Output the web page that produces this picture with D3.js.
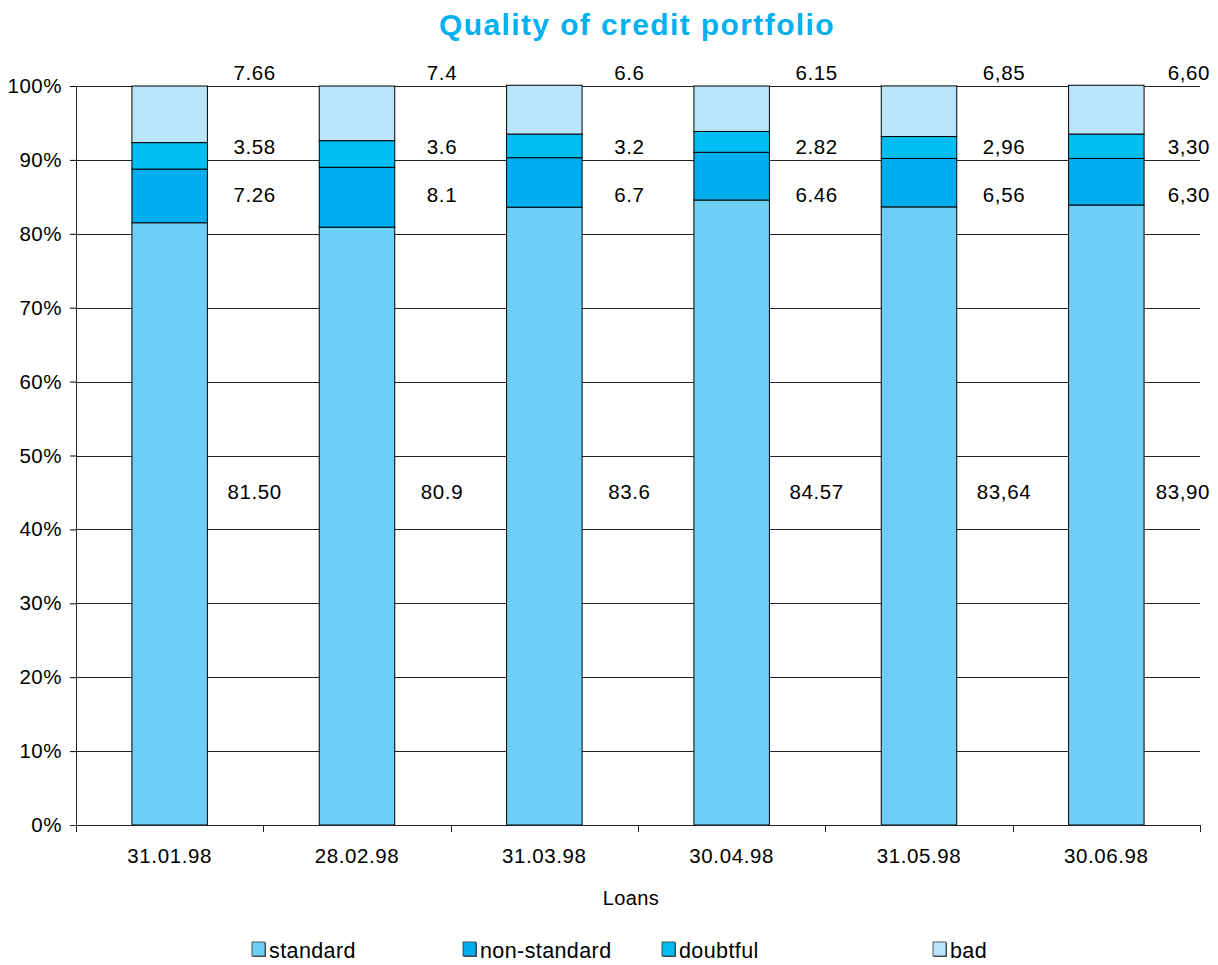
<!DOCTYPE html>
<html lang="en">
  <head>
    <meta charset="utf-8">
    <title>Quality of credit portfolio</title>
    <script src="https://d3js.org/d3.v7.min.js"></script>
    <style>
      body { margin: 0; background: #fff; }
      svg text { font-family: "Liberation Sans", Arial, sans-serif; fill: #000; }
    </style>
  </head>
  <body>
    <div id="chart"></div>

    <script type="text/javascript">
      // dados
      var datas = ["31.01.98", "28.02.98", "31.03.98", "30.04.98", "31.05.98", "30.06.98"];
      var series = ["standard", "non-standard", "doubtful", "bad"];
      var standard = [81.50, 80.9, 83.6, 84.57, 83.64, 83.90];
      var nonStandard = [7.26, 8.1, 6.7, 6.46, 6.56, 6.30];
      var doubtful = [3.58, 3.6, 3.2, 2.82, 2.96, 3.30];
      var bad = [7.66, 7.4, 6.6, 6.15, 6.85, 6.60];
      // rotulos como aparecem no grafico
      var rotStandard = ["81.50", "80.9", "83.6", "84.57", "83,64", "83,90"];
      var rotNonStandard = ["7.26", "8.1", "6.7", "6.46", "6,56", "6,30"];
      var rotDoubtful = ["3.58", "3.6", "3.2", "2.82", "2,96", "3,30"];
      var rotBad = ["7.66", "7.4", "6.6", "6.15", "6,85", "6,60"];
      var yTicks = [0, 10, 20, 30, 40, 50, 60, 70, 80, 90, 100];

      var cores = ["#6dcff6", "#00aeef", "#00bef2", "#b9e5fb"];
      var valores = [standard, nonStandard, doubtful, bad];
      var rotulos = [rotStandard, rotNonStandard, rotDoubtful, rotBad];
      // altura (em %) onde cada linha de rotulos fica
      var alturaRotulo = [45.1, 85.3, 91.7, 101.8];

      var larguraSVG = 1218, alturaSVG = 965;
      var margin = {top: 86, right: 18, bottom: 140, left: 76},
          larguraVis = larguraSVG - margin.left - margin.right,
          alturaVis = alturaSVG - margin.top - margin.bottom;

      var svg = d3.select("#chart").append("svg")
        .attr("width", larguraSVG)
        .attr("height", alturaSVG);

      svg.append("text")
        .attr("x", 637).attr("y", 35)
        .attr("text-anchor", "middle")
        .style("font-size", "30px").style("font-weight", "bold")
        .style("letter-spacing", "1.4px")
        .style("fill", "#00b0ef")
        .text("Quality of credit portfolio");

      var grafico = svg.append("g")
        .attr("transform", "translate(" + margin.left + "," + margin.top + ")");

      var x = d3.scaleBand().domain(datas).range([0, larguraVis]);
      var y = d3.scaleLinear().domain([0, 100]).range([alturaVis, 0]);
      var larguraBarra = 75.5;

      // grade
      grafico.selectAll("line.grade")
        .data(yTicks.filter(d => d > 0))
        .enter().append("line")
          .attr("class", "grade")
          .attr("x1", 0).attr("x2", larguraVis)
          .attr("y1", d => Math.round(y(d)) + 0.5).attr("y2", d => Math.round(y(d)) + 0.5)
          .attr("stroke", "#222").attr("stroke-width", 1);

      // barras empilhadas
      var linhas = datas.map((d, i) => {
        var o = {data: d};
        series.forEach((s, j) => o[s] = valores[j][i]);
        return o;
      });
      var pilha = d3.stack().keys(series)(linhas);

      pilha.forEach((camada, j) => {
        grafico.selectAll("rect.s" + j)
          .data(camada)
          .enter().append("rect")
            .attr("class", "s" + j)
            .attr("x", d => x(d.data.data) + x.bandwidth() / 2 - larguraBarra / 2)
            .attr("width", larguraBarra)
            .attr("y", d => y(d[1]))
            .attr("height", d => y(d[0]) - y(d[1]))
            .attr("fill", cores[j])
            .attr("stroke", "#000").attr("stroke-width", 1);
      });

      // rotulos
      series.forEach((s, j) => {
        grafico.selectAll("text.r" + j)
          .data(datas)
          .enter().append("text")
            .attr("class", "r" + j)
            .attr("text-anchor", "middle")
            .style("font-size", "20.5px").style("letter-spacing", "0.6px")
            .attr("x", d => x(d) + x.bandwidth() / 2 + 85)
            .attr("y", y(alturaRotulo[j]) + 7)
            .text((d, i) => rotulos[j][i])
            .each(function() {
              // nao deixa passar da borda direita
              var w = this.getComputedTextLength();
              var cx = +this.getAttribute("x");
              if (cx + w / 2 > larguraVis + 10) this.setAttribute("x", larguraVis + 10 - w / 2);
            });
      });

      // eixo y
      var eixoY = grafico.append("g")
        .call(d3.axisLeft(y).tickValues(yTicks).tickFormat(d => d + "%").tickSize(6).tickPadding(8));
      eixoY.selectAll("text").style("font-size", "20.5px").style("letter-spacing", "0.5px");
      eixoY.select(".domain").attr("stroke", "#222");

      // eixo x
      var eixoX = grafico.append("g").attr("transform", "translate(0," + alturaVis + ")");
      eixoX.append("line")
        .attr("x1", -6).attr("x2", larguraVis)
        .attr("y1", 0.5).attr("y2", 0.5).attr("stroke", "#222");
      eixoX.selectAll("line.tick")
        .data(datas.map(d => x(d)).concat([larguraVis]))
        .enter().append("line")
          .attr("x1", d => Math.round(d) + 0.5).attr("x2", d => Math.round(d) + 0.5)
          .attr("y1", 0).attr("y2", 7).attr("stroke", "#222");
      eixoX.selectAll("text")
        .data(datas)
        .enter().append("text")
          .attr("x", d => x(d) + x.bandwidth() / 2)
          .attr("y", 38)
          .attr("text-anchor", "middle")
          .style("font-size", "20.5px").style("letter-spacing", "0.6px")
          .text(d => d);

      svg.append("text")
        .attr("x", 631).attr("y", 905)
        .attr("text-anchor", "middle")
        .style("font-size", "20px").style("letter-spacing", "0.4px")
        .text("Loans");

      // legenda
      var posLegenda = [252, 463, 662, 933];
      var legenda = svg.selectAll("g.leg")
        .data(series)
        .enter().append("g")
          .attr("class", "leg")
          .attr("transform", (d, i) => "translate(" + posLegenda[i] + ",942)");
      legenda.append("rect")
        .attr("x", 1).attr("y", 1).attr("width", 13).attr("height", 14)
        .attr("fill", "#555");
      legenda.append("rect")
        .attr("width", 13).attr("height", 14)
        .attr("fill", (d, i) => cores[i])
        .attr("stroke", "#333").attr("stroke-width", 0.8);
      legenda.append("text")
        .attr("x", 17).attr("y", 16)
        .style("font-size", "21.5px").style("letter-spacing", "0.4px")
        .text(d => d);
    </script>
  </body>
</html>
